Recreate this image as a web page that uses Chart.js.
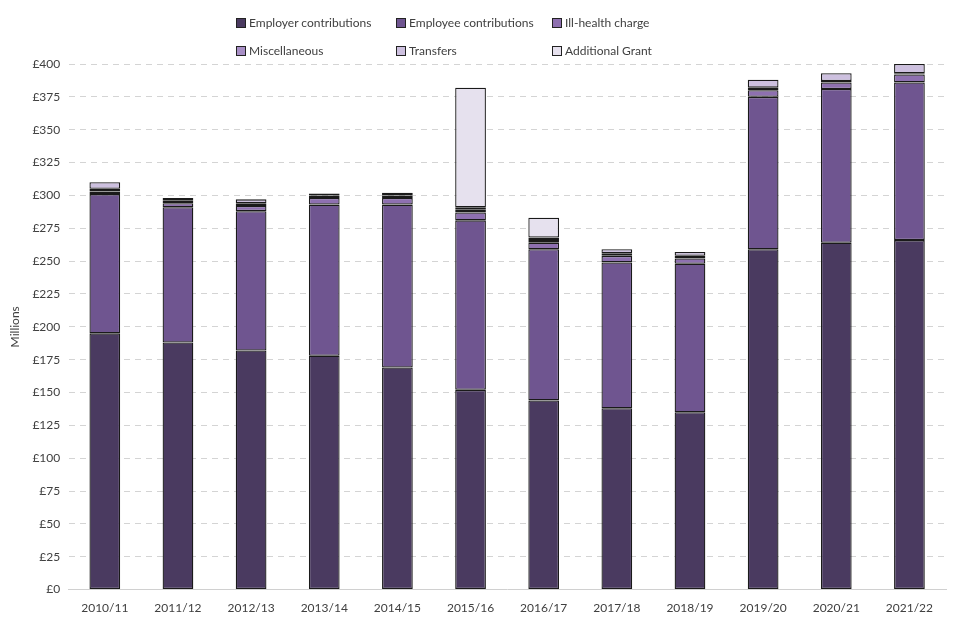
<!DOCTYPE html>
<html>
<head>
<meta charset="utf-8">
<script src="https://cdn.jsdelivr.net/npm/chart.js@4.4.1/dist/chart.umd.min.js"></script>
<style>
  body { margin: 0; background: #fff; }
  .wrap { position: relative; width: 960px; height: 640px; }
  #legend {
    position: absolute; left: 236px; top: 15px;
    display: grid; grid-template-columns: 160px 156px 160px;
    row-gap: 13px;
    font-family: Lato, "Open Sans", sans-serif; font-size: 12px; color: #404040;
  }
  #legend span.box {
    display: inline-block; width: 8px; height: 8px; border: 1.5px solid #222;
    margin-right: 3px; vertical-align: -1px;
  }
</style>
</head>
<body>
<div class="wrap">
  <canvas id="chart" width="960" height="640"></canvas>
  <div id="legend"></div>
</div>
<script>
const years = ["2010/11", "2011/12", "2012/13", "2013/14", "2014/15", "2015/16",
  "2016/17", "2017/18", "2018/19", "2019/20", "2020/21", "2021/22"];

const employer = [195, 188, 182, 178, 169, 152, 144, 138, 135, 259, 264, 266];
const employee = [106, 103, 106, 115, 124, 129, 115, 111, 113, 116, 117, 120];
const illHealth = [2, 3, 4, 5, 5, 6, 5, 5, 4, 5, 5, 6];
const misc = [2, 2, 2, 2, 2, 2, 2, 2, 2, 2, 1, 1];
const transfers = [5, 2, 3, 1.5, 2, 2, 2, 3, 3, 6, 6, 7];
const additionalGrant = [0, 0, 0, 0, 0, 91, 15, 0, 0, 0, 0, 0];

const seriesNames = ["Employer contributions", "Employee contributions", "Ill-health charge",
  "Miscellaneous", "Transfers", "Additional Grant"];
const seriesColors = ["#4a3a60", "#6f5590", "#8e70b0", "#a88fc6", "#cdc0df", "#e6e1ee"];
const seriesData = [employer, employee, illHealth, misc, transfers, additionalGrant];

const fontFamily = "Lato, 'Open Sans', sans-serif";

const datasets = seriesNames.map((name, i) => ({
  label: name,
  data: seriesData[i],
  backgroundColor: seriesColors[i],
  borderColor: "#1a1a1a",
  borderWidth: 1.3,
  borderSkipped: false,
  barPercentage: 0.42,
  categoryPercentage: 1
}));

// legend in 3 columns, like the original
const legendEl = document.getElementById("legend");
seriesNames.forEach((name, i) => {
  const item = document.createElement("div");
  item.innerHTML = '<span class="box" style="background:' + seriesColors[i] + '"></span>' + name;
  legendEl.appendChild(item);
});

const ctx = document.getElementById("chart").getContext("2d");
new Chart(ctx, {
  type: "bar",
  data: { labels: years, datasets: datasets },
  options: {
    responsive: false,
    animation: false,
    layout: { padding: { top: 64, right: 14, left: 6, bottom: 22 } },
    plugins: {
      legend: { display: false },
      tooltip: { enabled: false }
    },
    scales: {
      x: {
        stacked: true,
        grid: { display: false },
        border: { color: "#d0d0d0", width: 1 },
        ticks: { color: "#404040", font: { family: fontFamily, size: 12 }, padding: 3 }
      },
      y: {
        stacked: true,
        min: 0,
        max: 400,
        ticks: {
          stepSize: 25,
          color: "#404040",
          padding: 8,
          font: { family: fontFamily, size: 12 },
          callback: (v) => "£" + v
        },
        grid: {
          color: (c) => c.tick.value === 0 ? "#d0d0d0" : "#d4d4d4",
          drawTicks: false
        },
        border: { display: true, color: "rgba(0,0,0,0)", dash: [6, 5] },
        title: {
          display: true,
          text: "Millions",
          color: "#404040",
          font: { family: fontFamily, size: 12 },
          padding: 2
        }
      }
    }
  }
});
</script>
</body>
</html>
